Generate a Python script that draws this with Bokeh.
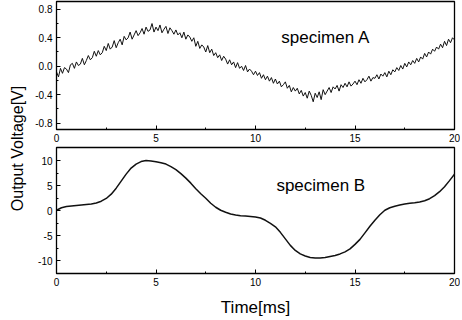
import math
from bokeh.plotting import figure
from bokeh.layouts import row, column
from bokeh.models import Range1d, FixedTicker, PrintfTickFormatter, Label
from bokeh.embed import file_html
from bokeh.resources import INLINE

# ---------------- data ----------------
# specimen A: sampled every 0.1 ms (0 .. 20 ms)
time_a = [i / 10 for i in range(201)]
volt_a = [
    -0.08, -0.15, -0.03, -0.10, -0.02, -0.04, -0.09, 0.02, 0.04, -0.03,
    0.06, 0.01, 0.03, 0.11, 0.02, 0.08, 0.15, 0.09, 0.12, 0.21,
    0.14, 0.22, 0.16, 0.19, 0.28, 0.22, 0.32, 0.24, 0.27, 0.36,
    0.26, 0.33, 0.38, 0.30, 0.42, 0.37, 0.40, 0.48, 0.38, 0.44,
    0.50, 0.43, 0.47, 0.53, 0.45, 0.55, 0.49, 0.51, 0.60, 0.48,
    0.55, 0.50, 0.58, 0.47, 0.52, 0.56, 0.46, 0.54, 0.50, 0.45,
    0.51, 0.44, 0.47, 0.40, 0.48, 0.38, 0.44, 0.41, 0.35, 0.40,
    0.28, 0.35, 0.25, 0.30, 0.27, 0.20, 0.29, 0.19, 0.24, 0.15,
    0.19, 0.12, 0.16, 0.08, 0.14, 0.10, 0.03, 0.09, 0.02, 0.06,
    -0.02, 0.05, -0.03, 0.00, -0.06, 0.01, -0.08, -0.04, -0.07, -0.12,
    -0.07, -0.13, -0.09, -0.17, -0.12, -0.19, -0.14, -0.21, -0.16, -0.24,
    -0.18, -0.25, -0.21, -0.29, -0.26, -0.22, -0.31, -0.27, -0.36, -0.30,
    -0.35, -0.31, -0.39, -0.34, -0.42, -0.37, -0.45, -0.35, -0.41, -0.50,
    -0.38, -0.44, -0.36, -0.47, -0.33, -0.40, -0.35, -0.30, -0.37, -0.29,
    -0.32, -0.27, -0.35, -0.26, -0.30, -0.24, -0.29, -0.22, -0.28, -0.25,
    -0.21, -0.26, -0.19, -0.24, -0.17, -0.22, -0.19, -0.14, -0.21, -0.16,
    -0.17, -0.12, -0.18, -0.11, -0.14, -0.09, -0.15, -0.07, -0.12, -0.05,
    -0.08, -0.02, -0.06, 0.01, -0.04, 0.04, -0.01, 0.06, 0.02, 0.08,
    0.04, 0.11, 0.06, 0.13, 0.10, 0.18, 0.13, 0.20, 0.17, 0.24,
    0.21, 0.27, 0.24, 0.31, 0.26, 0.35, 0.29, 0.38, 0.33, 0.40,
    0.37,
]

# specimen B: sampled every 0.25 ms
time_b = [i / 4 for i in range(81)]
volt_b = [
    0.1, 0.6, 0.85, 0.95, 1.05, 1.15, 1.25, 1.35, 1.55, 1.9,
    2.45, 3.3, 4.5, 5.9, 7.3, 8.5, 9.3, 9.8, 10.0, 9.9,
    9.75, 9.55, 9.3, 8.8, 8.2, 7.4, 6.5, 5.5, 4.4, 3.4,
    2.5, 1.5, 0.7, 0.1, -0.3, -0.65, -0.85, -1.0, -1.05, -1.15,
    -1.25, -1.45, -1.9, -2.5, -3.2, -4.3, -5.6, -6.9, -7.9, -8.6,
    -9.0, -9.3, -9.4, -9.4, -9.3, -9.1, -8.9, -8.6, -8.2, -7.6,
    -6.7, -5.7, -4.4, -3.1, -1.9, -0.8, 0.1, 0.6, 0.9, 1.15,
    1.35, 1.5, 1.6, 1.75, 2.0, 2.4, 3.0, 3.8, 4.8, 6.0,
    7.3,
]

x_ticks = [0, 5, 10, 15, 20]
x_minor = [2.5, 7.5, 12.5, 17.5]
ya_ticks = [-0.8, -0.4, 0.0, 0.4, 0.8]
ya_minor = [-0.6, -0.2, 0.2, 0.6]
yb_ticks = [-10, -5, 0, 5, 10]
yb_minor = [-7.5, -2.5, 2.5, 7.5]

label_a = "specimen A"
label_b = "specimen B"
x_title = "Time[ms]"
y_title = "Output Voltage[V]"

FONT = "Liberation Sans"


def style(p, yt, ym, yfmt):
    p.xaxis.ticker = FixedTicker(ticks=x_ticks, minor_ticks=x_minor)
    p.yaxis.ticker = FixedTicker(ticks=yt, minor_ticks=ym)
    p.xaxis.formatter = PrintfTickFormatter(format="%d")
    p.yaxis.formatter = PrintfTickFormatter(format=yfmt)
    for ax in p.axis:
        ax.major_tick_in = 4
        ax.major_tick_out = 0
        ax.minor_tick_in = 2
        ax.minor_tick_out = 0
        ax.axis_line_color = "black"
        ax.major_tick_line_color = "black"
        ax.minor_tick_line_color = "black"
        ax.major_label_text_font = FONT
        ax.major_label_text_font_size = "10px"
        ax.major_label_text_color = "black"
        ax.major_label_standoff = 4
    p.grid.visible = False
    p.outline_line_color = "black"
    p.outline_line_width = 1.3
    p.outline_line_alpha = 1.0
    p.background_fill_color = "white"
    p.border_fill_color = "white"


p1 = figure(width=429, height=146, x_range=Range1d(0, 20), y_range=Range1d(-0.89, 0.91),
            output_backend="svg", toolbar_location=None,
            min_border_left=25, min_border_right=6, min_border_top=1, min_border_bottom=17)
p1.line(time_a, volt_a, line_color="#111111", line_width=1)
style(p1, ya_ticks, ya_minor, "%.1f")
p1.add_layout(Label(x=11.3, y=0.40, text=label_a, text_font=FONT, text_font_size="17px",
                    text_baseline="middle", text_align="left", text_color="black"))

p2 = figure(width=429, height=173, x_range=Range1d(0, 20), y_range=Range1d(-12.5, 12.6),
            output_backend="svg", toolbar_location=None,
            min_border_left=25, min_border_right=6, min_border_top=1, min_border_bottom=43)
p2.line(time_b, volt_b, line_color="#111111", line_width=1.5)
style(p2, yb_ticks, yb_minor, "%d")
p2.xaxis.axis_label = x_title
p2.xaxis.axis_label_text_font = FONT
p2.xaxis.axis_label_text_font_size = "17px"
p2.xaxis.axis_label_text_font_style = "normal"
p2.xaxis.axis_label_text_color = "black"
p2.xaxis.axis_label_standoff = 9
p2.add_layout(Label(x=11.05, y=5.0, text=label_b, text_font=FONT, text_font_size="17px",
                    text_baseline="middle", text_align="left", text_color="black"))

lab = figure(width=31, height=319, x_range=Range1d(0, 31), y_range=Range1d(319, 0),
             output_backend="svg", toolbar_location=None,
             x_axis_location=None, y_axis_location=None,
             min_border=0, outline_line_color=None)
lab.grid.visible = False
lab.add_layout(Label(x=17, y=148, text=y_title, angle=math.pi / 2,
                     text_font=FONT, text_font_size="16px", text_align="center",
                     text_baseline="middle", text_color="black"))

layout = row(lab, column(p1, p2, spacing=0), spacing=0)

open("out.html", "w").write(file_html(layout, INLINE))
